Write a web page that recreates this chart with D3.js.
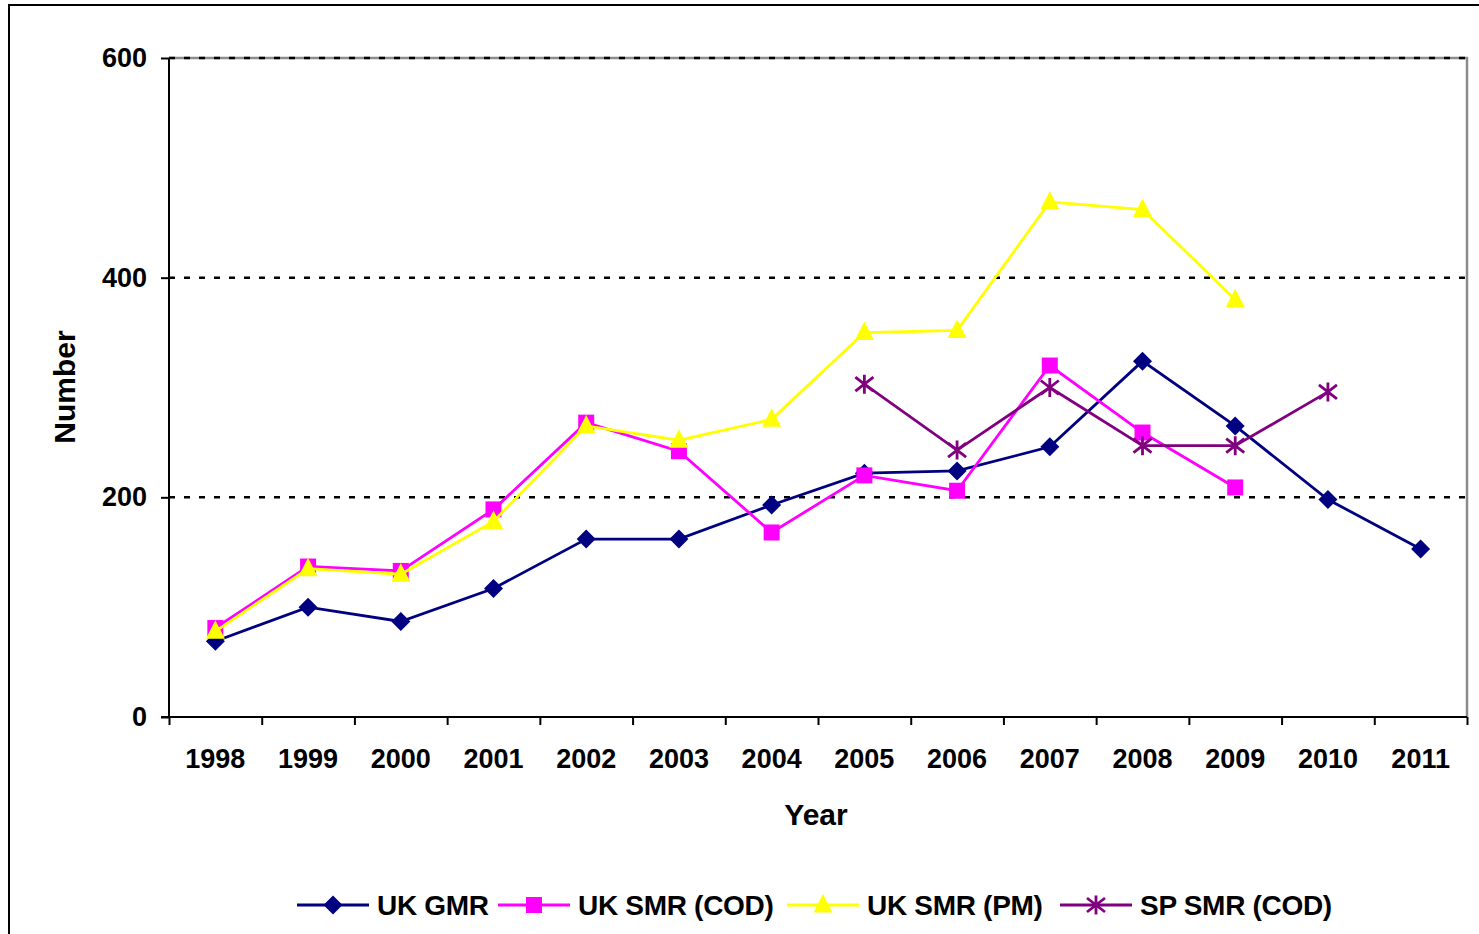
<!DOCTYPE html>
<html>
<head>
<meta charset="utf-8">
<script src="https://cdn.jsdelivr.net/npm/d3@7"></script>
<style>
  body { margin: 0; background: #fff; }
  text { font-family: "Liberation Sans", Arial, sans-serif; font-weight: bold; fill: #000; }
</style>
</head>
<body>
<script>
//chart values
var years = ["1998","1999","2000","2001","2002","2003","2004","2005","2006","2007","2008","2009","2010","2011"];
var ukGmr    = [69, 100, 87, 117, 162, 162, 193, 222, 224, 246, 324, 265, 198, 153];
var ukSmrCod = [81, 137, 133, 189, 268, 242, 168, 220, 206, 320, 259, 209, null, null];
var ukSmrPm  = [78, 135, 130, 178, 265, 252, 271, 350, 352, 469, 462, 380, null, null];
var spSmrCod = [null, null, null, null, null, null, null, 303, 243, 300, 247, 247, 296, null];
var yTicks = [0, 200, 400, 600];
var seriesNames = ["UK GMR", "UK SMR (COD)", "UK SMR (PM)", "SP SMR (COD)"];

window.onload = function(){
    var w = 1479, h = 934;
    var left = 169, right = 1467, top = 58, bottom = 717;

    var svg = d3.select("body").append("svg")
        .attr("width", w)
        .attr("height", h);

    //outer chart frame (runs off the right and bottom edge)
    svg.append("rect")
        .attr("x", 9).attr("y", 5)
        .attr("width", w + 20).attr("height", h + 20)
        .style("fill", "#fff")
        .style("stroke", "#000")
        .style("stroke-width", 2);

    var x = d3.scaleBand()
        .domain(years)
        .range([left, right])
        .paddingInner(0).paddingOuter(0);

    var xEdge = d3.scaleLinear()
        .domain([0, years.length])
        .range([left, right]);

    var y = d3.scaleLinear()
        .domain([0, 600])
        .range([bottom, top]);

    //gray plot border (top, right)
    svg.append("path")
        .attr("d", "M" + left + "," + top + "H" + right + "V" + bottom)
        .style("fill", "none")
        .style("stroke", "#8c8c8c")
        .style("stroke-width", 2.5);

    //dotted gridlines
    svg.selectAll(".grid")
        .data(yTicks.filter(function(d){ return d > 0; }))
        .enter()
        .append("line")
        .attr("class", "grid")
        .attr("x1", left).attr("x2", right)
        .attr("y1", function(d){ return y(d); })
        .attr("y2", function(d){ return y(d); })
        .style("stroke", "#000")
        .style("stroke-width", 2.5)
        .style("stroke-dasharray", "6,9");

    //y axis
    var yAxis = svg.append("g")
        .attr("transform", "translate(" + left + ",0)")
        .call(d3.axisLeft(y).tickValues(yTicks).tickSize(8).tickPadding(14));
    yAxis.select(".domain").remove();
    yAxis.append("line")
        .attr("x1", 0).attr("x2", 0)
        .attr("y1", top).attr("y2", bottom)
        .style("stroke", "#000").style("stroke-width", 2);
    yAxis.selectAll(".tick line").style("stroke", "#000").style("stroke-width", 2);
    yAxis.selectAll(".tick text").style("font-size", "27px").style("font-family", "Liberation Sans, Arial, sans-serif").style("font-weight", "bold");

    //x axis: ticks on the category edges
    var xTickAxis = svg.append("g")
        .attr("transform", "translate(0," + bottom + ")")
        .call(d3.axisBottom(xEdge).tickValues(d3.range(years.length + 1)).tickSize(8).tickFormat(""));
    xTickAxis.select(".domain").remove();
    xTickAxis.append("line")
        .attr("x1", left - 8).attr("x2", right)
        .style("stroke", "#000").style("stroke-width", 2);
    xTickAxis.selectAll(".tick line").style("stroke", "#000").style("stroke-width", 2);

    //x axis: category labels
    var xLabelAxis = svg.append("g")
        .attr("transform", "translate(0," + bottom + ")")
        .call(d3.axisBottom(x).tickSize(0).tickPadding(32));
    xLabelAxis.select(".domain").remove();
    xLabelAxis.selectAll(".tick text").style("font-size", "27px").style("font-family", "Liberation Sans, Arial, sans-serif").style("font-weight", "bold");

    //axis titles
    svg.append("text")
        .attr("x", 816).attr("y", 825)
        .attr("text-anchor", "middle")
        .style("font-size", "30px")
        .text("Year");

    svg.append("text")
        .attr("transform", "translate(75,387) rotate(-90)")
        .attr("text-anchor", "middle")
        .style("font-size", "30px")
        .text("Number");

    //series setup
    var series = [
        {name: seriesNames[0], values: ukGmr,    color: "#000080", marker: "diamond"},
        {name: seriesNames[1], values: ukSmrCod, color: "#FF00FF", marker: "square"},
        {name: seriesNames[2], values: ukSmrPm,  color: "#FFFF00", marker: "triangle"},
        {name: seriesNames[3], values: spSmrCod, color: "#800080", marker: "star"}
    ];

    //marker shapes, centred on 0,0
    function markerPath(type){
        if (type === "diamond") return "M0,-9.5L9.5,0L0,9.5L-9.5,0Z";
        if (type === "square") return "M-8,-8H8V8H-8Z";
        if (type === "triangle") return "M0,-11L9.5,7.5H-9.5Z";
        return "M0,-9.5V9.5M-9,-7L9,7M-9,7L9,-7";
    }

    function cx(i){ return x(years[i]) + x.bandwidth() / 2; }

    var line = d3.line()
        .defined(function(d){ return d != null; })
        .x(function(d, i){ return cx(i); })
        .y(function(d){ return y(d); });

    series.forEach(function(s){
        var g = svg.append("g").attr("class", "series");
        g.append("path")
            .datum(s.values)
            .attr("d", line)
            .style("fill", "none")
            .style("stroke", s.color)
            .style("stroke-width", 2.8);

        g.selectAll(".marker")
            .data(s.values.map(function(v, i){ return {v: v, i: i}; })
                .filter(function(d){ return d.v != null; }))
            .enter()
            .append("path")
            .attr("class", "marker")
            .attr("transform", function(d){ return "translate(" + cx(d.i) + "," + y(d.v) + ")"; })
            .attr("d", markerPath(s.marker))
            .style("fill", s.marker === "star" ? "none" : s.color)
            .style("stroke", s.color)
            .style("stroke-width", s.marker === "star" ? 2.8 : 0);
    });

    //legend
    var legendX = [297, 498, 787, 1060];
    var legendY = 905;
    var legend = svg.selectAll(".legend")
        .data(series)
        .enter()
        .append("g")
        .attr("class", "legend")
        .attr("transform", function(d, i){ return "translate(" + legendX[i] + "," + legendY + ")"; });

    legend.append("line")
        .attr("x1", 0).attr("x2", 72)
        .style("stroke", function(d){ return d.color; })
        .style("stroke-width", 2.8);

    legend.append("path")
        .attr("transform", "translate(36,0)")
        .attr("d", function(d){ return markerPath(d.marker); })
        .style("fill", function(d){ return d.marker === "star" ? "none" : d.color; })
        .style("stroke", function(d){ return d.color; })
        .style("stroke-width", function(d){ return d.marker === "star" ? 2.8 : 0; });

    legend.append("text")
        .attr("x", 80)
        .attr("y", 10)
        .style("font-size", "28px")
        .style("letter-spacing", "-0.3px")
        .text(function(d){ return d.name; });
};
</script>
</body>
</html>
